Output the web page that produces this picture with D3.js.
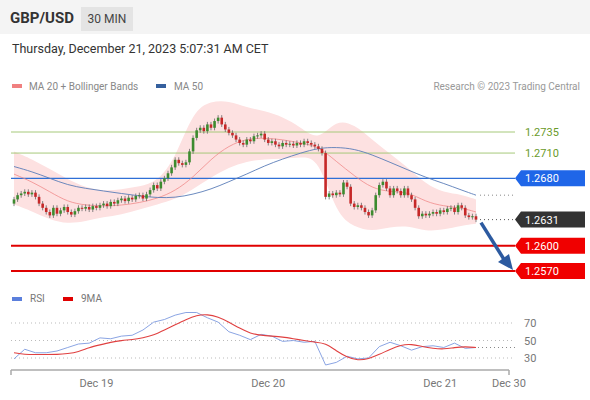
<!DOCTYPE html>
<html><head><meta charset="utf-8">
<script src="https://cdn.jsdelivr.net/npm/d3@7"></script>
<style>body{margin:0;background:#fff;font-family:Roboto,"Liberation Sans",sans-serif}</style>
</head><body><svg id="c" width="590" height="400"></svg>
<script>
// closes, 30 min candles from Dec 18 12:30 to Dec 21 05:00
const closes = [1.2655,1.2660,1.2662,1.2664,1.2661,1.2663,1.2658,
  1.2650,1.2645,1.2640,1.2636,1.2645,1.2638,
  1.2642,1.2646,1.2640,1.2637,1.2641,1.2645,
  1.2644,1.2646,1.2643,1.2647,1.2645,1.2648,1.2650,1.2647,1.2652,1.2650,
  1.2654,1.2656,1.2653,1.2657,1.2655,1.2659,1.2660,1.2656,1.2661,
  1.2666,1.2672,1.2668,1.2676,1.2680,1.2686,1.2693,1.2702,
  1.2698,1.2696,1.2699,1.2712,1.2728,
  1.2737,1.2740,1.2736,1.2744,1.2740,1.2748,1.2752,1.2744,
  1.2738,1.2734,1.2731,1.2726,1.2722,1.2720,1.2726,1.2724,
  1.2730,1.2731,1.2733,1.2726,1.2722,1.2724,1.2720,1.2718,1.2722,
  1.2720,1.2721,1.2719,1.2722,1.2720,1.2724,1.2722,1.2720,1.2718,1.2715,1.2710,
  1.2658,1.2662,1.2660,1.2663,1.2661,1.2675,
  1.2670,1.2650,1.2646,1.2648,1.2645,1.2640,1.2636,1.2642,
  1.2660,1.2672,1.2676,1.2668,1.2660,1.2668,1.2665,1.2660,
  1.2668,1.2660,1.2655,1.2645,1.2635,1.2638,1.2636,1.2638,1.2640,
  1.2638,1.2642,1.2640,1.2644,1.2645,1.2640,1.2648,1.2645,1.2636,1.2634,1.2635,1.2631];
const firstOpen = 1.2650;

// indicator samples every 5 candles (last at 129)
const sampleIdx5 = [0,5,10,15,20,25,30,35,40,45,50,55,60,65,70,75,80,85,90,95,100,105,110,115,120,125,129];
const ma50 = [1.2694,1.2688,1.2680,1.2672,1.2668,1.2665,1.2662,1.2659,1.2657,1.2657,1.2661,1.2667,1.2676,1.2685,1.2695,1.2703,1.2710,1.2716,1.2717,1.2715,1.2708,1.2699,1.2690,1.2681,1.2674,1.2666,1.2660];
const ma20 = [1.2685,1.2676,1.2664,1.2652,1.2648,1.2647,1.2648,1.2651,1.2656,1.2665,1.2681,1.2703,1.2719,1.2727,1.2728,1.2726,1.2722,1.2718,1.2700,1.2683,1.2668,1.2664,1.2664,1.2652,1.2647,1.2645,1.2640];
const bandUp = [1.2712,1.2703,1.2691,1.2679,1.2669,1.2665,1.2667,1.2670,1.2676,1.2703,1.2760,1.2772,1.2772,1.2764,1.2760,1.2753,1.2741,1.2724,1.2750,1.2744,1.2726,1.2709,1.2693,1.2673,1.2663,1.2661,1.2655];
const bandLo = [1.2649,1.2641,1.2631,1.2626,1.2629,1.2634,1.2637,1.2643,1.2649,1.2655,1.2667,1.2681,1.2693,1.2700,1.2703,1.2703,1.2705,1.2705,1.2637,1.2622,1.2617,1.2622,1.2624,1.2617,1.2619,1.2624,1.2626];

// RSI samples every 3 candles
const rsi = [29,40,36,36,38,42,46,47,53,52,55,56,62,71,74,79,82,82,76,71,60,56,51,57,55,49,50,48,49,22,25,32,29,30,43,48,44,39,43,44,42,47,41,42];
const rsiMA = [36,34,34,34,34,35,37,42,45,48,50,51,53,56,62,68,74,79,80,77,71,64,58,56,55,54,52,50,48,47,38,31,27,29,34,40,45,46,43,41,40,42,43,42];

const dayLabels = ["Dec 19","Dec 20","Dec 21"];
const dayIdx = [23,71,119];
const greenLevels = [1.2735,1.2710];
const blueLevel = 1.2680, lastPrice = 1.2631;
const redLevels = [1.2600,1.2570];
const rsiTicks = [70,50,30];

const svg = d3.select("#c");
const x = d3.scaleLinear().domain([0,129]).range([14,476]);
const y = d3.scaleLinear().domain([1.2570,1.2735]).range([271,132]);
const yr = d3.scaleLinear().domain([30,70]).range([358,323]);

// header
svg.append("rect").attr("width",590).attr("height",34).attr("fill","#f4f4f4");
svg.append("text").attr("x",10).attr("y",23).attr("font-size",15).attr("font-weight","bold").attr("fill","#333").text("GBP/USD");
svg.append("rect").attr("x",81).attr("y",7).attr("width",52).attr("height",24).attr("fill","#e4e4e4");
svg.append("text").attr("x",107).attr("y",23).attr("text-anchor","middle").attr("font-size",12).attr("fill","#444").text("30 MIN");
svg.append("text").attr("x",12).attr("y",53).attr("font-size",12.5).attr("fill","#333").text("Thursday, December 21, 2023 5:07:31 AM CET");

// legend
svg.append("rect").attr("x",12).attr("y",84).attr("width",10).attr("height",4).attr("fill","#f08080");
svg.append("text").attr("x",29).attr("y",90).attr("font-size",10).attr("fill","#888").text("MA 20 + Bollinger Bands");
svg.append("rect").attr("x",156).attr("y",84).attr("width",10).attr("height",4).attr("fill","#35609e");
svg.append("text").attr("x",174).attr("y",90).attr("font-size",10).attr("fill","#888").text("MA 50");
svg.append("text").attr("x",580).attr("y",90).attr("text-anchor","end").attr("font-size",10).attr("fill","#999").text("Research © 2023 Trading Central");

// bollinger band
const band = sampleIdx5.map((d,i)=>({i:d,u:bandUp[i],l:bandLo[i],m:ma20[i],m50:ma50[i]}));
svg.append("path").datum(band).attr("fill","#fde1e1")
  .attr("d",d3.area().curve(d3.curveBasis).x(d=>x(d.i)).y0(d=>y(d.l)).y1(d=>y(d.u)));

// horizontal levels
greenLevels.forEach(v=>{
  svg.append("line").attr("x1",11).attr("x2",515).attr("y1",y(v)).attr("y2",y(v)).attr("stroke","#a6c97a").attr("stroke-width",1);
  svg.append("text").attr("x",525).attr("y",y(v)+4).attr("font-size",11).attr("fill","#6a9a2a").text(v.toFixed(4));
});
svg.append("line").attr("x1",11).attr("x2",515).attr("y1",y(blueLevel)).attr("y2",y(blueLevel)).attr("stroke","#2f6fd6").attr("stroke-width",1.2);
redLevels.forEach(v=>svg.append("line").attr("x1",11).attr("x2",515).attr("y1",y(v)).attr("y2",y(v)).attr("stroke","#e00000").attr("stroke-width",2));

// lines
svg.append("path").datum(band).attr("fill","none").attr("stroke","#f08a8a").attr("stroke-width",0.8)
  .attr("d",d3.line().curve(d3.curveBasis).x(d=>x(d.i)).y(d=>y(d.m)));
svg.append("path").datum(band).attr("fill","none").attr("stroke","#5a7db8").attr("stroke-width",0.9)
  .attr("d",d3.line().curve(d3.curveBasis).x(d=>x(d.i)).y(d=>y(d.m50)));

// candles
const candles = closes.map((c,i)=>({i,o:i?closes[i-1]:firstOpen,c}));
const wick = 0.0003;
const g = svg.append("g");
g.selectAll("line").data(candles).join("line")
  .attr("x1",d=>x(d.i)).attr("x2",d=>x(d.i))
  .attr("y1",d=>y(Math.max(d.o,d.c)+wick)).attr("y2",d=>y(Math.min(d.o,d.c)-wick))
  .attr("stroke","#666").attr("stroke-width",0.8);
g.selectAll("rect").data(candles).join("rect")
  .attr("x",d=>x(d.i)-1.3).attr("width",2.6)
  .attr("y",d=>y(Math.max(d.o,d.c))).attr("height",d=>Math.max(1,Math.abs(y(d.o)-y(d.c))))
  .attr("fill",d=>d.c>=d.o?"#3d8b2f":"#c62828");

// dotted guides
svg.append("line").attr("x1",x(129)+4).attr("x2",515).attr("y1",y(ma50[26])).attr("y2",y(ma50[26])).attr("stroke","#888").attr("stroke-dasharray","1,3");
svg.append("line").attr("x1",x(129)+4).attr("x2",515).attr("y1",y(lastPrice)).attr("y2",y(lastPrice)).attr("stroke","#555").attr("stroke-dasharray","1,3");

// arrow
svg.append("line").attr("x1",x(129)+5).attr("y1",y(lastPrice)+3).attr("x2",505).attr("y2",y(1.2570)-10).attr("stroke","#2c5aa0").attr("stroke-width",3.5);
svg.append("path").attr("d",`M${513},${y(1.2570)-1} L${498},${y(1.2570)-9} L${509},${y(1.2570)-17} Z`).attr("fill","#2c5aa0");

// price tags
function tag(v,fill){
  const yy=y(v);
  svg.append("path").attr("d",`M515,${yy} L521,${yy-8} L585,${yy-8} L585,${yy+8} L521,${yy+8} Z`).attr("fill",fill);
  svg.append("text").attr("x",525).attr("y",yy+4).attr("font-size",11).attr("fill","#fff").text(v.toFixed(4));
}
tag(blueLevel,"#1f66e8"); tag(lastPrice,"#333"); redLevels.forEach(v=>tag(v,"#f00000"));

// RSI panel
svg.append("rect").attr("x",12).attr("y",297).attr("width",10).attr("height",4).attr("fill","#5b7fdc");
svg.append("text").attr("x",30).attr("y",302).attr("font-size",10).attr("fill","#777").text("RSI");
svg.append("rect").attr("x",63).attr("y",297).attr("width",10).attr("height",4).attr("fill","#e00000");
svg.append("text").attr("x",81).attr("y",302).attr("font-size",10).attr("fill","#777").text("9MA");
rsiTicks.forEach(t=>{
  svg.append("line").attr("x1",11).attr("x2",515).attr("y1",yr(t)).attr("y2",yr(t)).attr("stroke","#bbb").attr("stroke-dasharray","1,3");
  svg.append("text").attr("x",524).attr("y",yr(t)+4).attr("font-size",11).attr("fill","#777").text(t);
});
const rIdx = rsi.map((_,k)=>k*3);
svg.append("path").datum(rsi).attr("fill","none").attr("stroke","#7d9ae0").attr("stroke-width",0.9)
  .attr("d",d3.line().x((d,k)=>x(rIdx[k])).y(d=>yr(d)));
svg.append("path").datum(rsiMA).attr("fill","none").attr("stroke","#e04040").attr("stroke-width",1.1)
  .attr("d",d3.line().curve(d3.curveBasis).x((d,k)=>x(rIdx[k])).y(d=>yr(d)));
svg.append("line").attr("x1",x(129)+2).attr("x2",515).attr("y1",yr(rsi[43])).attr("y2",yr(rsi[43])).attr("stroke","#888").attr("stroke-dasharray","1,3");

// time axis
const ax = svg.append("g").attr("transform","translate(0,370)");
ax.append("line").attr("x1",11).attr("x2",509).attr("stroke","#aaa").attr("stroke-width",1.5);
[11,509].forEach(px=>ax.append("line").attr("x1",px).attr("x2",px).attr("y1",0).attr("y2",5).attr("stroke","#aaa").attr("stroke-width",1.5));
dayIdx.forEach((d,k)=>ax.append("text").attr("x",x(d)).attr("y",17).attr("text-anchor","middle").attr("font-size",11).attr("fill","#777").text(dayLabels[k]));
ax.append("text").attr("x",509).attr("y",17).attr("text-anchor","middle").attr("font-size",11).attr("fill","#777").text("Dec 30");
</script></body></html>
